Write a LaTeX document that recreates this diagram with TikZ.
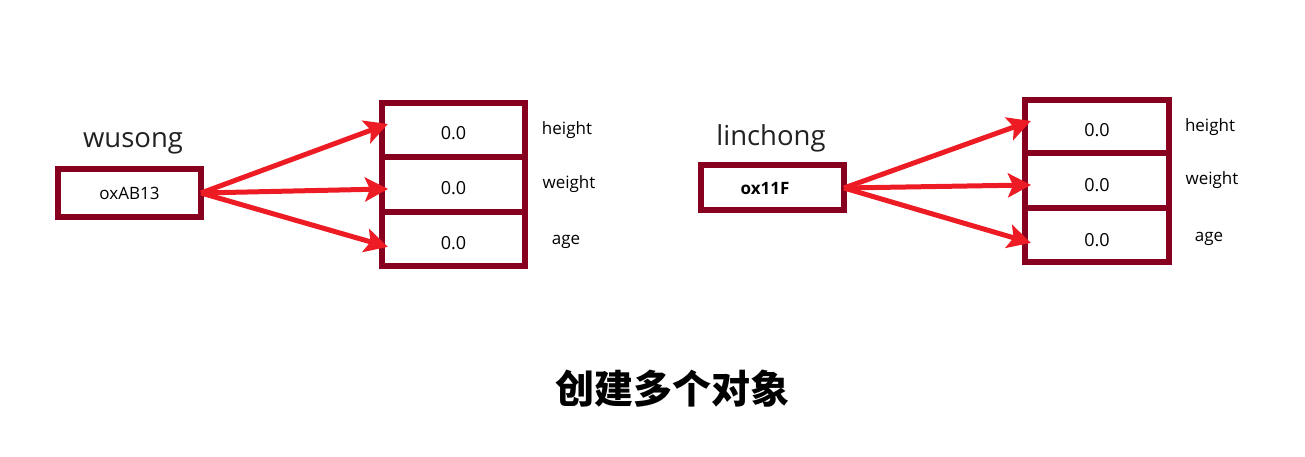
\documentclass[tikz,border=0pt]{standalone}
\usepackage{fontspec}
\setmainfont{Open Sans}
\newfontfamily\cjk{Noto Sans CJK SC}
\usetikzlibrary{arrows.meta}
\definecolor{boxred}{RGB}{136,0,32}
\definecolor{arrred}{RGB}{237,28,36}
\definecolor{namegray}{RGB}{34,34,34}
\begin{document}
\begin{tikzpicture}[x=1pt,y=-1pt,
  cell/.style={draw=boxred,line width=6pt,fill=white},
  txt/.style={font=\fontsize{17}{19}\selectfont,inner sep=0pt},
  val/.style={font=\fontsize{18}{20}\selectfont,inner sep=0pt},
  varname/.style={font=\fontsize{27.5}{30}\selectfont,text=namegray,inner sep=0pt},
  ptr/.style={draw=arrred,line width=5pt,-{Stealth[length=23pt,width=24pt,inset=5pt]},shorten >=-3pt}]
\useasboundingbox (0,0) rectangle (1305,456);

% ---------- left object ----------
\node[varname] (wusong) at (133,143) {wusong};
\draw[cell] (58,168.5) rectangle (201,216.5);
\node[txt] (refA) at (129.5,193) {oxAB13};
\coordinate (srcA) at (201,193);

\draw[cell] (382,103) rectangle (525,156.5);
\draw[cell] (382,156.5) rectangle (525,211.5);
\draw[cell] (382,211.5) rectangle (525,266);
\node[val] (hA) at (453.5,133) {0.0};
\node[val] (wA) at (453.5,188) {0.0};
\node[val] (aA) at (453.5,243) {0.0};
\coordinate (thA) at (385,125);
\coordinate (twA) at (385,189);
\coordinate (taA) at (385,246);
\node[txt] (lhA) at (567,130) {height};
\node[txt] (lwA) at (569,184) {weight};
\node[txt] (laA) at (566,242) {age};

\draw[ptr] (srcA) -- (thA);
\draw[ptr] (srcA) -- (twA);
\draw[ptr] (srcA) -- (taA);

% ---------- right object ----------
\node[varname] (linchong) at (771,138) {linchong};
\draw[cell] (701,164.5) rectangle (844,210);
\node[txt,font=\fontsize{17}{19}\selectfont\bfseries] (refB) at (765,189) {ox11F};
\coordinate (srcB) at (844,188);

\draw[cell] (1024.5,99.5) rectangle (1169,153);
\draw[cell] (1024.5,153) rectangle (1169,207.5);
\draw[cell] (1024.5,207.5) rectangle (1169,262);
\node[val] (hB) at (1097,130) {0.0};
\node[val] (wB) at (1097,185) {0.0};
\node[val] (aB) at (1097,240) {0.0};
\coordinate (thB) at (1028,122);
\coordinate (twB) at (1028,185);
\coordinate (taB) at (1028,242);
\node[txt] (lhB) at (1210,127) {height};
\node[txt] (lwB) at (1212,180) {weight};
\node[txt] (laB) at (1209,239) {age};

\draw[ptr] (srcB) -- (thB);
\draw[ptr] (srcB) -- (twB);
\draw[ptr] (srcB) -- (taB);

% ---------- title ----------
\node[inner sep=0pt,font=\cjk\bfseries\fontsize{39}{42}\selectfont] (title) at (672.5,389) {创建多个对象};
\end{tikzpicture}
\end{document}
